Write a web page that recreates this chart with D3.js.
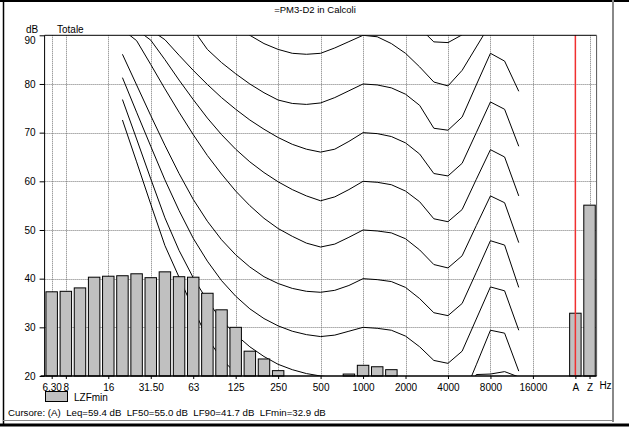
<!DOCTYPE html>
<html>
<head>
<meta charset="utf-8">
<script src="https://cdn.jsdelivr.net/npm/d3@7"></script>
<style>
  body { margin: 0; background: #fff; }
  svg { display: block; font-family: Arial, "Liberation Sans", sans-serif; }
</style>
</head>
<body>
<svg id="chart" width="629" height="428"></svg>
<script>
// Third-octave bands on the x axis, then an empty slot and the A / Z totals
const bands = ["6.3","8","10","12.5","16","20","25","31.5","40","50","63","80","100","125","160",
  "200","250","315","400","500","630","800","1000","1250","1600","2000","2500","3150","4000",
  "5000","6300","8000","10000","12500","16000","20000","gap","A","Z"];

// Labelled bands (tick text as printed)
const tickBands  = ["6.3","8","16","31.5","63","125","250","500","1000","2000","4000","8000","16000","A","Z"];
const tickLabels = ["6.30","8","16","31.50","63","125","250","500","1000","2000","4000","8000","16000","A","Z"];

const dbTicks = [20, 30, 40, 50, 60, 70, 80, 90];

// LZFmin per band (dB); null = below the bottom of the scale
const lzfmin = [37.3, 37.4, 38.1, 40.3, 40.5, 40.6, 41.0, 40.2, 41.4, 40.4, 40.3, 37.0, 33.6, 30.0,
  25.1, 23.5, 21.1, null, null, null, null, 20.4, 22.2, 21.9, 21.3, null, null, null, null,
  null, null, null, null, null, null, null, null, 32.9, 55.1];

// Equal-loudness contour bands (20 Hz .. 12.5 kHz)
const isoBands = ["20","25","31.5","40","50","63","80","100","125","160","200","250","315","400",
  "500","630","800","1000","1250","1600","2000","2500","3150","4000","5000","6300","8000","10000","12500"];

// Contours, 10 to 100 phon (dB)
const iso10  = [72.6, 64.0, 55.3, 46.8, 40.3, 33.8, 27.8, 23.5, 20.6, 18.2, 16.2, 14.5, 13.0, 11.8, 11.0,
  10.6, 10.4, 10.0, 9.8, 9.5, 8.4, 6.5, 3.5, 2.5, 14.0, 20.3, 20.4, 20.9, 19.8];
const iso20  = [76.8, 68.7, 60.5, 52.5, 45.8, 40.2, 35.5, 31.5, 28.5, 26.0, 24.0, 22.4, 21.3, 20.5, 20.0,
  19.7, 19.7, 20.0, 19.8, 19.5, 18.4, 16.3, 13.3, 12.6, 15.3, 22.3, 29.4, 28.8, 21.0];
const iso30  = [81.3, 74.2, 67.2, 60.3, 54.0, 48.3, 43.6, 39.6, 36.4, 33.8, 31.8, 30.3, 29.2, 28.5, 28.1,
  28.4, 29.2, 30.0, 29.8, 29.4, 28.2, 26.0, 23.2, 22.6, 25.1, 31.7, 38.3, 37.5, 29.4];
const iso40  = [86.1, 79.8, 73.5, 67.4, 61.6, 56.3, 51.8, 48.0, 44.9, 42.4, 40.4, 39.0, 38.0, 37.4, 37.2,
  37.6, 38.6, 40.0, 39.8, 39.4, 38.2, 35.9, 33.0, 32.4, 34.9, 41.3, 47.8, 46.9, 38.2];
const iso50  = [91.2, 88.9, 84.0, 79.0, 74.2, 69.6, 65.3, 61.5, 58.0, 55.0, 52.4, 50.3, 48.7, 47.3, 46.5,
  47.1, 48.5, 50.0, 49.8, 49.4, 48.2, 45.9, 42.9, 42.2, 44.7, 50.9, 57.0, 55.6, 47.4];
const iso60  = [93.0, 91.2, 89.0, 85.0, 80.8, 76.8, 73.0, 69.6, 66.6, 64.0, 61.8, 59.9, 58.3, 57.0, 56.0,
  56.8, 58.3, 60.0, 59.8, 59.3, 58.0, 55.8, 52.3, 51.7, 54.2, 60.4, 66.5, 65.0, 57.0];
const iso70  = [95.0, 93.0, 91.1, 89.1, 85.9, 82.8, 79.9, 77.2, 74.8, 72.6, 70.7, 69.0, 67.6, 66.6, 66.0,
  66.6, 68.2, 70.0, 69.8, 69.2, 67.9, 65.6, 61.6, 61.1, 63.7, 70.0, 76.3, 74.8, 67.2];
const iso80  = [100, 98, 96, 94.5, 93, 91.2, 87.1, 84.4, 82.1, 80.0, 78.2, 76.7, 76.0, 75.8, 76.1,
  77.2, 78.6, 80.0, 79.8, 79.2, 77.9, 75.6, 70.9, 70.5, 73.2, 79.8, 86.3, 84.7, 78.5];
const iso90  = [106, 104, 102, 100, 98, 96.5, 95, 93.5, 91.8, 90.0, 88.3, 87.1, 86.3, 86.1, 86.3,
  87.4, 88.7, 90.0, 89.7, 88.3, 86.3, 83.5, 80.4, 79.6, 82.8, 87.6, 92.4, 92.0, 91.0];
const iso100 = [112, 110, 108, 106, 104, 103, 102, 101, 100, 99, 98, 97, 96.5, 96, 96,
  96.5, 97.5, 100, 99.5, 98, 96, 91.5, 88.65, 88.5, 90.1, 96, 102, 101, 100];
const contours = [iso10, iso20, iso30, iso40, iso50, iso60, iso70, iso80, iso90, iso100];

const svg = d3.select("#chart");

// Panel frame
svg.append("rect").attr("x", 0).attr("y", 0).attr("width", 629).attr("height", 428).attr("fill", "#fff");
svg.append("line").attr("x1", 0).attr("x2", 629).attr("y1", 1).attr("y2", 1).attr("stroke", "#000").attr("stroke-width", 2);
svg.append("line").attr("x1", 3.5).attr("x2", 3.5).attr("y1", 0).attr("y2", 425).attr("stroke", "#000").attr("stroke-width", 1.5);
svg.append("line").attr("x1", 613).attr("x2", 613).attr("y1", 0).attr("y2", 422).attr("stroke", "#888").attr("stroke-width", 2);
svg.append("line").attr("x1", 3).attr("x2", 614).attr("y1", 420.5).attr("y2", 420.5).attr("stroke", "#888").attr("stroke-width", 1);
svg.append("line").attr("x1", 0).attr("x2", 629).attr("y1", 425).attr("y2", 425).attr("stroke", "#000").attr("stroke-width", 3);

const plot = { left: 44.6, right: 596.6, top: 35.3, bottom: 376 };

const x = d3.scalePoint().domain(bands).range([plot.left, plot.right]).padding(0.5);
const y = d3.scaleLinear().domain([20, 90]).range([plot.bottom, plot.top]);
const barW = x.step() * 0.81;

// Title
svg.append("text").attr("x", 315).attr("y", 13).attr("text-anchor", "middle")
  .attr("font-size", 9.5).attr("fill", "#000").text("=PM3-D2 in Calcoli");

// Grid
const grid = svg.append("g").attr("stroke", "#777").attr("stroke-width", 1).attr("stroke-dasharray", "1,1");
grid.selectAll("line.v").data(tickBands).join("line")
  .attr("x1", d => Math.round(x(d)) + 0.5).attr("x2", d => Math.round(x(d)) + 0.5)
  .attr("y1", plot.top).attr("y2", plot.bottom);
grid.selectAll("line.h").data(dbTicks.slice(1, -1)).join("line")
  .attr("x1", plot.left).attr("x2", plot.right)
  .attr("y1", d => Math.round(y(d)) + 0.5).attr("y2", d => Math.round(y(d)) + 0.5);

// Equal-loudness contours, clipped to the plot area (drawn under the bars)
svg.append("clipPath").attr("id", "plotClip").append("rect")
  .attr("x", plot.left).attr("y", plot.top).attr("width", plot.right - plot.left).attr("height", plot.bottom - plot.top);
const line = d3.line().x((v, i) => x(isoBands[i])).y(v => y(v));
svg.append("g").attr("clip-path", "url(#plotClip)").selectAll("path").data(contours).join("path")
  .attr("d", line).attr("fill", "none").attr("stroke", "#000").attr("stroke-width", 1);

// Bars
svg.append("g").selectAll("rect").data(bands.map((b, i) => ({ b, v: lzfmin[i] })).filter(d => d.v != null && d.v > 20))
  .join("rect")
  .attr("x", d => x(d.b) - barW / 2).attr("width", barW)
  .attr("y", d => y(d.v)).attr("height", d => y(20) - y(d.v))
  .attr("fill", "#c0c0c0").attr("stroke", "#000").attr("stroke-width", 1);

// Cursor marker on the A total
svg.append("line").attr("x1", x("A")).attr("x2", x("A")).attr("y1", plot.top).attr("y2", plot.bottom)
  .attr("stroke", "#f03030").attr("stroke-width", 1.5);

// Axes
const axes = svg.append("g").attr("stroke", "#000").attr("fill", "none");
axes.append("line").attr("x1", plot.left).attr("x2", plot.left).attr("y1", plot.top).attr("y2", plot.bottom);
axes.append("line").attr("x1", plot.left).attr("x2", plot.right).attr("y1", plot.top).attr("y2", plot.top);
axes.append("line").attr("x1", plot.right).attr("x2", plot.right).attr("y1", plot.top).attr("y2", plot.bottom).attr("stroke", "#555");
axes.append("line").attr("x1", plot.left - 4).attr("x2", plot.right).attr("y1", plot.bottom).attr("y2", plot.bottom).attr("stroke-width", 1.5);

const yAxis = d3.axisLeft(y).tickValues(dbTicks).tickSize(5).tickFormat(d3.format("d"));
const gy = svg.append("g").attr("transform", `translate(${plot.left},0)`).call(yAxis);
gy.select(".domain").remove();
gy.selectAll("text").attr("font-size", 10).attr("font-family", "Arial, 'Liberation Sans', sans-serif").attr("dx", -1);
gy.selectAll(".tick").filter(d => d === 90).select("text").attr("dy", "0.85em");

const xAxis = d3.axisBottom(x).tickValues(tickBands).tickSize(3).tickFormat((d, i) => tickLabels[i]);
const gx = svg.append("g").attr("transform", `translate(0,${plot.bottom})`).call(xAxis);
gx.select(".domain").remove();
gx.selectAll("text").attr("font-size", 10).attr("font-family", "Arial, 'Liberation Sans', sans-serif").attr("dy", "0.9em");

svg.append("text").attr("x", x("Z") + 16).attr("y", 389).attr("text-anchor", "middle").attr("font-size", 10).text("Hz");
svg.append("text").attr("x", 26).attr("y", 33).attr("font-size", 10).text("dB");
svg.append("text").attr("x", 57).attr("y", 33).attr("font-size", 10).text("Totale");

// Legend
svg.append("rect").attr("x", 45.5).attr("y", 391.5).attr("width", 22).attr("height", 10)
  .attr("fill", "#c0c0c0").attr("stroke", "#000");
svg.append("text").attr("x", 74).attr("y", 401).attr("font-size", 10).text("LZFmin");

// Cursor readout
svg.append("text").attr("x", 8).attr("y", 416).attr("font-size", 9.7).attr("xml:space", "preserve")
  .text("Cursore: (A)  Leq=59.4 dB  LF50=55.0 dB  LF90=41.7 dB  LFmin=32.9 dB");
</script>
</body>
</html>
